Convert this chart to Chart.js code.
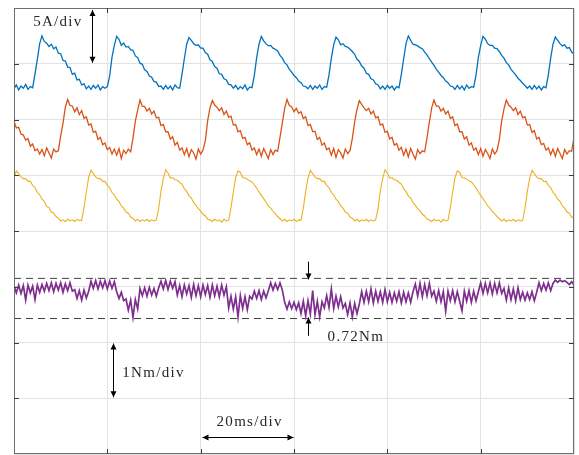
<!DOCTYPE html>
<html>
<head>
<meta charset="utf-8">
<script src="https://cdn.jsdelivr.net/npm/chart.js@4.4.1/dist/chart.umd.min.js"></script>
<style>
  html, body { margin: 0; padding: 0; background: #fff; }
  #wrap { width: 579px; height: 455px; }
</style>
</head>
<body>
<div id="wrap"><canvas id="scope" width="579" height="455"></canvas></div>
<script>
/* Scope capture: three phase currents (5 A/div) + torque (1 Nm/div), 20 ms/div.
 * Values are in screen divisions (0..8), one sample every 0.5 ms. */
const SAMPLE_MS = 0.5;
const X_TICKS = [0, 20, 40, 60, 80, 100, 120];
const Y_TICKS = [0, 1, 2, 3, 4, 5, 6, 7, 8];

const phaseA = [
  6.55, 6.62, 6.53, 6.60, 6.56, 6.63, 6.54, 6.59,
  6.57, 6.82, 7.08, 7.36, 7.50, 7.40, 7.37, 7.31, 7.35, 7.27, 7.30, 7.19, 7.18, 7.06, 7.05, 6.94, 6.93, 6.81, 6.83, 6.71, 6.72, 6.62, 6.64, 6.55, 6.60, 6.54, 6.61, 6.56, 6.62, 6.53, 6.59, 6.56,
  6.59, 6.78, 7.12, 7.33, 7.49, 7.44, 7.33, 7.37, 7.30, 7.31, 7.25, 7.24, 7.14, 7.11, 7.01, 6.99, 6.89, 6.86, 6.78, 6.76, 6.68, 6.67, 6.59, 6.60, 6.54, 6.61, 6.55, 6.60, 6.53, 6.62, 6.57,
  6.56, 6.81, 7.09, 7.35, 7.47, 7.42, 7.36, 7.33, 7.34, 7.28, 7.28, 7.20, 7.17, 7.07, 7.04, 6.95, 6.92, 6.82, 6.81, 6.73, 6.71, 6.63, 6.62, 6.56, 6.61, 6.54, 6.59, 6.55, 6.62, 6.53, 6.58,
  6.57, 6.79, 7.11, 7.35, 7.49, 7.41, 7.36, 7.32, 7.33, 7.28, 7.26, 7.23, 7.15, 7.10, 7.02, 6.98, 6.90, 6.85, 6.79, 6.75, 6.69, 6.66, 6.60, 6.59, 6.55, 6.61, 6.54, 6.60, 6.56, 6.62, 6.54, 6.59,
  6.58, 6.80, 7.10, 7.34, 7.48, 7.43, 7.34, 7.36, 7.31, 7.30, 7.26, 7.22, 7.17, 7.08, 7.04, 6.96, 6.92, 6.83, 6.81, 6.73, 6.71, 6.64, 6.62, 6.55, 6.60, 6.54, 6.61, 6.56, 6.60, 6.53, 6.59,
  6.57, 6.81, 7.09, 7.36, 7.50, 7.42, 7.35, 7.34, 7.32, 7.29, 7.27, 7.21, 7.16, 7.09, 7.03, 6.97, 6.90, 6.85, 6.79, 6.75, 6.69, 6.66, 6.60, 6.59, 6.54, 6.61, 6.55, 6.60, 6.53, 6.62, 6.56, 6.59,
  6.58, 6.79, 7.11, 7.33, 7.49, 7.44, 7.36, 7.33, 7.33, 7.28, 7.27, 7.22, 7.15, 7.10, 7.02, 6.98, 6.90, 6.85, 6.80, 6.74, 6.70, 6.65, 6.61, 6.56, 6.60, 6.54, 6.61, 6.55, 6.60, 6.53, 6.59,
  6.57, 6.80, 7.10, 7.35, 7.48, 7.42, 7.36, 7.32, 7.34, 7.28, 7.29, 7.21, 7.17
];

const phaseB = [
  5.97, 5.85, 5.86, 5.74, 5.72, 5.63, 5.66, 5.52, 5.56, 5.44, 5.47, 5.38, 5.46, 5.35, 5.49, 5.40, 5.31, 5.47, 5.42,
  5.44, 5.70, 5.93, 6.22, 6.36, 6.25, 6.24, 6.14, 6.21, 6.09, 6.16, 6.02, 6.05, 5.90, 5.92, 5.77, 5.79, 5.64, 5.68, 5.55, 5.58, 5.46, 5.50, 5.38, 5.47, 5.36, 5.48, 5.30, 5.45, 5.39, 5.47,
  5.42, 5.67, 5.97, 6.17, 6.35, 6.24, 6.23, 6.15, 6.20, 6.10, 6.15, 6.03, 6.04, 5.89, 5.91, 5.78, 5.78, 5.65, 5.69, 5.54, 5.59, 5.45, 5.49, 5.37, 5.48, 5.33, 5.46, 5.40, 5.29, 5.47, 5.38,
  5.45, 5.62, 5.98, 6.21, 6.34, 6.26, 6.22, 6.16, 6.21, 6.09, 6.15, 6.04, 6.06, 5.90, 5.91, 5.78, 5.80, 5.66, 5.68, 5.55, 5.58, 5.45, 5.49, 5.37, 5.47, 5.34, 5.48, 5.39, 5.30, 5.46, 5.37, 5.45,
  5.43, 5.68, 5.94, 6.20, 6.36, 6.25, 6.23, 6.14, 6.20, 6.11, 6.14, 6.02, 6.05, 5.89, 5.91, 5.78, 5.79, 5.64, 5.68, 5.54, 5.58, 5.46, 5.49, 5.36, 5.48, 5.32, 5.46, 5.40, 5.31, 5.47, 5.39,
  5.44, 5.66, 5.96, 6.18, 6.34, 6.27, 6.21, 6.16, 6.20, 6.10, 6.15, 6.03, 6.05, 5.90, 5.92, 5.77, 5.79, 5.65, 5.68, 5.54, 5.57, 5.45, 5.50, 5.36, 5.47, 5.33, 5.48, 5.38, 5.29, 5.46, 5.39, 5.44,
  5.42, 5.67, 5.95, 6.21, 6.35, 6.24, 6.24, 6.15, 6.20, 6.10, 6.15, 6.02, 6.05, 5.89, 5.92, 5.78, 5.78, 5.65, 5.69, 5.54, 5.58, 5.45, 5.49, 5.37, 5.48, 5.34, 5.46, 5.39, 5.30, 5.47, 5.38,
  5.44, 5.64, 5.97, 6.19, 6.35, 6.26, 6.22, 6.16, 6.21, 6.09, 6.15, 6.03, 6.05, 5.90, 5.91, 5.77, 5.80, 5.65, 5.68, 5.55, 5.57, 5.45, 5.49, 5.37, 5.47, 5.34, 5.48, 5.39, 5.30, 5.46, 5.38, 5.44,
  5.43, 5.68
];

const phaseC = [
  4.96, 5.08, 5.03, 4.97, 4.94, 4.94, 4.89, 4.89, 4.82, 4.78, 4.69, 4.65, 4.57, 4.53, 4.44, 4.42, 4.34, 4.32, 4.26, 4.23, 4.18, 4.20, 4.17, 4.21, 4.18, 4.20, 4.17, 4.21, 4.19,
  4.19, 4.42, 4.70, 4.96, 5.09, 5.03, 4.97, 4.94, 4.94, 4.89, 4.89, 4.82, 4.78, 4.69, 4.65, 4.57, 4.53, 4.45, 4.41, 4.34, 4.32, 4.25, 4.23, 4.18, 4.21, 4.17, 4.20, 4.18, 4.21, 4.17, 4.20, 4.18,
  4.20, 4.40, 4.72, 4.94, 5.10, 5.04, 4.95, 4.96, 4.92, 4.91, 4.87, 4.84, 4.76, 4.71, 4.63, 4.59, 4.51, 4.46, 4.40, 4.36, 4.30, 4.27, 4.21, 4.20, 4.17, 4.21, 4.18, 4.20, 4.16, 4.21, 4.18,
  4.19, 4.42, 4.70, 4.96, 5.08, 5.05, 4.96, 4.95, 4.93, 4.90, 4.88, 4.83, 4.77, 4.70, 4.64, 4.58, 4.52, 4.45, 4.41, 4.35, 4.31, 4.26, 4.22, 4.18, 4.21, 4.17, 4.20, 4.18, 4.21, 4.17, 4.20,
  4.19, 4.41, 4.71, 4.95, 5.09, 5.03, 4.97, 4.94, 4.94, 4.89, 4.89, 4.82, 4.78, 4.69, 4.65, 4.57, 4.53, 4.45, 4.41, 4.34, 4.32, 4.25, 4.23, 4.18, 4.21, 4.17, 4.20, 4.18, 4.21, 4.17, 4.20, 4.18,
  4.20, 4.40, 4.72, 4.94, 5.10, 5.04, 4.95, 4.96, 4.92, 4.91, 4.87, 4.84, 4.76, 4.71, 4.63, 4.59, 4.51, 4.46, 4.40, 4.36, 4.30, 4.27, 4.21, 4.20, 4.17, 4.21, 4.18, 4.20, 4.16, 4.21, 4.18,
  4.19, 4.42, 4.70, 4.96, 5.08, 5.05, 4.96, 4.95, 4.93, 4.90, 4.88, 4.83, 4.77, 4.70, 4.64, 4.58, 4.52, 4.45, 4.41, 4.35, 4.31, 4.26, 4.22, 4.18, 4.21, 4.17, 4.20, 4.18, 4.21, 4.17, 4.20, 4.18,
  4.19, 4.41, 4.71, 4.95, 5.09, 5.03, 4.97, 4.94, 4.94, 4.89, 4.89, 4.82, 4.78, 4.69, 4.65, 4.57, 4.53, 4.45, 4.41, 4.34, 4.32, 4.25, 4.23
];

// torque in Nm (1 Nm/div, zero at the bottom line)
const torque = [
  3.02, 2.89, 3.03, 2.88, 3.02, 2.76, 3.03, 2.89, 3.01, 2.77, 3.03, 2.90, 3.04,
  2.92, 3.06, 2.93, 3.07, 2.91, 3.06, 2.94, 3.07, 2.90, 3.05, 2.93, 3.07, 2.92,
  2.95, 2.79, 2.93, 2.76, 2.94, 2.80, 2.92,
  3.10, 2.97, 3.11, 2.96, 3.10, 2.98, 3.11, 2.96, 3.10, 2.97, 3.09,
  2.91, 2.79, 2.90, 2.75,
  2.78, 2.58, 2.76, 2.45, 2.77, 2.60,
  2.97, 2.84, 2.98, 2.83, 2.99, 2.85, 2.97, 2.83, 2.98,
  3.10, 2.96, 3.11, 2.95, 3.10, 2.97, 3.09,
  2.85, 3.02, 2.82, 3.03, 2.87, 3.02, 2.81, 3.04, 2.84, 3.02, 2.82, 3.03, 2.86, 3.02, 2.81, 3.03, 2.84, 3.01, 2.82, 3.03, 2.85, 3.00,
  2.62, 2.83, 2.60, 2.82, 2.46, 2.84, 2.61, 2.82, 2.59, 2.83,
  2.78, 2.92, 2.79, 2.93, 2.77, 2.92, 2.80, 2.93,
  3.07, 2.94, 3.06, 2.95, 3.07, 2.94,
  2.72, 2.60, 2.73, 2.61, 2.72, 2.59, 2.71,
  2.52, 2.74, 2.48, 2.75, 2.51, 2.93, 2.50, 2.74, 2.46, 2.73,
  2.62, 2.84, 2.63, 2.96, 2.61, 2.83, 2.64, 2.82, 2.62,
  2.70, 2.50, 2.71, 2.46, 2.70, 2.52, 2.69,
  2.91, 2.72, 2.92, 2.73, 2.96, 2.71, 2.92, 2.74, 2.91, 2.72, 2.95, 2.73,
  2.90, 2.72, 2.89, 2.74, 2.91, 2.71, 2.90, 2.73, 2.89, 2.72, 2.91,
  3.05, 2.83, 3.06, 2.82, 3.04, 2.84, 3.06, 2.83,
  2.92, 2.74, 2.93, 2.73, 2.91, 2.56, 2.92, 2.75, 2.93, 2.73, 2.91, 2.74, 2.57, 2.92, 2.74, 2.93, 2.72, 2.92, 2.75, 2.91,
  3.07, 2.88, 3.06, 2.89, 3.07, 2.87, 3.06, 2.89, 3.07, 2.88,
  2.97, 2.76, 2.98, 2.77, 2.96, 2.75, 2.98, 2.77,
  2.90, 2.76, 2.89, 2.77, 2.91, 2.75, 2.90,
  3.07, 2.93, 3.06, 2.94, 3.07, 2.93, 3.06,
  3.12, 3.08, 3.12, 3.09, 3.11, 3.08,
  3.04, 3.09, 3.03
];

// ripple band markers (Nm): max / min
const torqueBand = [3.15, 2.43];
const rippleLabel = "0.72Nm";

const $ = (id) => document.getElementById(id);
const toPts = (arr) => arr.map((v, i) => ({ x: i * SAMPLE_MS, y: v }));
const bandLine = (v) => [{ x: X_TICKS[0], y: v }, { x: X_TICKS[X_TICKS.length - 1], y: v }];

const trace = (data, color, w) => ({
  data: toPts(data), borderColor: color, borderWidth: w, pointRadius: 0, tension: 0, fill: false,
});

/* ---------------------- box, inward ticks, markers ------------------------ */
function arrowHead(ctx, x, y, dx, dy) {
  const len = 6, w = 3;
  const n = Math.hypot(dx, dy); const ux = dx / n, uy = dy / n;
  ctx.beginPath();
  ctx.moveTo(x, y);
  ctx.lineTo(x - ux * len - uy * w, y - uy * len + ux * w);
  ctx.lineTo(x - ux * len + uy * w, y - uy * len - ux * w);
  ctx.closePath();
  ctx.fill();
}
function arrow(ctx, x1, y1, x2, y2, both) {
  ctx.beginPath(); ctx.moveTo(x1, y1); ctx.lineTo(x2, y2); ctx.stroke();
  arrowHead(ctx, x2, y2, x2 - x1, y2 - y1);
  if (both) arrowHead(ctx, x1, y1, x1 - x2, y1 - y2);
}

const scopeDecor = {
  id: "scopeDecor",
  afterDatasetsDraw(chart) {
    const { ctx, chartArea: a, scales: { x, y } } = chart;
    ctx.save();
    // frame
    ctx.strokeStyle = "#6e6e6e"; ctx.lineWidth = 1;
    ctx.strokeRect(a.left + 0.5, a.top + 0.5, a.right - a.left - 1, a.bottom - a.top - 1);
    // inward ticks
    ctx.strokeStyle = "#3c3c3c";
    ctx.beginPath();
    X_TICKS.slice(1, -1).forEach((t) => {
      const px = Math.round(x.getPixelForValue(t)) + 0.5;
      ctx.moveTo(px, a.top); ctx.lineTo(px, a.top + 5);
      ctx.moveTo(px, a.bottom); ctx.lineTo(px, a.bottom - 5);
    });
    Y_TICKS.slice(1, -1).forEach((t) => {
      const py = Math.round(y.getPixelForValue(t)) + 0.5;
      ctx.moveTo(a.left, py); ctx.lineTo(a.left + 5, py);
      ctx.moveTo(a.right, py); ctx.lineTo(a.right - 5, py);
    });
    ctx.stroke();

    // scale markers
    ctx.strokeStyle = "#000"; ctx.fillStyle = "#000"; ctx.lineWidth = 1;
    const X = (v) => Math.round(x.getPixelForValue(v)) + 0.5;
    const Y = (v) => y.getPixelForValue(v);
    arrow(ctx, X(16.7), Y(8) + 2, X(16.7), Y(7) - 1, true);
    arrow(ctx, X(21.2), Y(2) + 1, X(21.2), Y(1) - 1, true);
    arrow(ctx, X(40) + 1, Math.round(Y(0.3)) + 0.5, X(60) - 1, Math.round(Y(0.3)) + 0.5, true);
    arrow(ctx, X(63), Y(3.45), X(63), Y(torqueBand[0]) + 1, false);
    arrow(ctx, X(63), Y(2.12), X(63), Y(torqueBand[1]) - 1, false);

    ctx.fillStyle = "#262626";
    ctx.font = "15px 'Liberation Serif', serif";
    ctx.letterSpacing = "1.3px";
    ctx.textAlign = "left";
    ctx.textBaseline = "middle";
    ctx.fillText("5A/div", x.getPixelForValue(4.1), Y(7.75));
    ctx.fillText("1Nm/div", x.getPixelForValue(23.2), Y(1.45));
    ctx.fillText("20ms/div", x.getPixelForValue(43.4), Y(0.57));
    ctx.fillText(rippleLabel, x.getPixelForValue(67.2), Y(2.1));
    ctx.restore();
  },
};

new Chart($("scope"), {
  type: "line",
  data: {
    datasets: [
      trace(phaseA, "#0072BD", 1.3),
      trace(phaseB, "#D95319", 1.3),
      trace(phaseC, "#EDB120", 1.1),
      trace(torque, "#7E2F8E", 1.7),
      { data: bandLine(torqueBand[0]), borderColor: "#404040", borderWidth: 1, borderDash: [7, 5], pointRadius: 0 },
      { data: bandLine(torqueBand[1]), borderColor: "#404040", borderWidth: 1, borderDash: [7, 5], pointRadius: 0 },
    ],
  },
  options: {
    responsive: false, animation: false, devicePixelRatio: 1,
    layout: { padding: { left: 14, top: 8, right: 5, bottom: 1 } },
    plugins: { legend: { display: false }, tooltip: { enabled: false } },
    scales: {
      x: {
        type: "linear", min: X_TICKS[0], max: X_TICKS[X_TICKS.length - 1],
        afterBuildTicks: (s) => { s.ticks = X_TICKS.map((v) => ({ value: v })); },
        ticks: { display: false }, border: { display: false },
        grid: { color: "#e2e2e2", drawTicks: false, lineWidth: 1 },
      },
      y: {
        type: "linear", min: Y_TICKS[0], max: Y_TICKS[Y_TICKS.length - 1],
        afterBuildTicks: (s) => { s.ticks = Y_TICKS.map((v) => ({ value: v })); },
        ticks: { display: false }, border: { display: false },
        grid: { color: "#e2e2e2", drawTicks: false, lineWidth: 1 },
      },
    },
  },
  plugins: [scopeDecor],
});
</script>
</body>
</html>
